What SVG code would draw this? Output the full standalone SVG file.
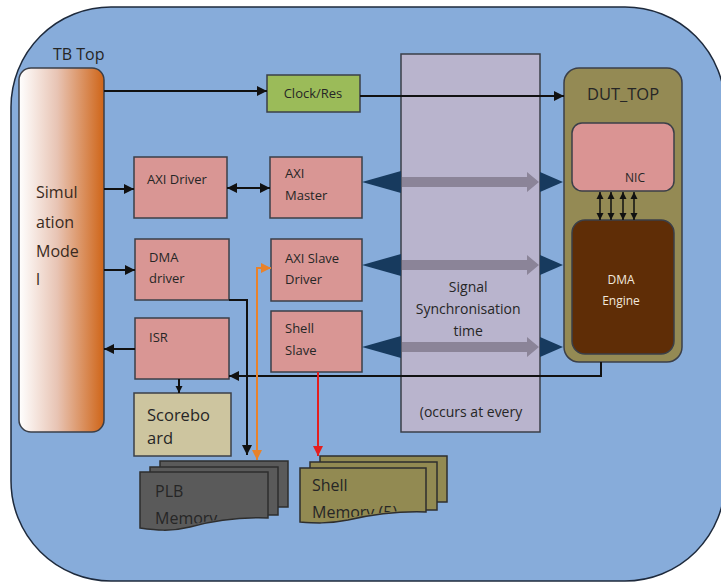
<svg xmlns="http://www.w3.org/2000/svg" width="721" height="583" viewBox="0 0 721 583">
  <defs>
    <linearGradient id="simGrad" x1="0" y1="0" x2="1" y2="0">
      <stop offset="0" stop-color="#ffffff"/>
      <stop offset="0.45" stop-color="#e8c4b4"/>
      <stop offset="1" stop-color="#cf6518"/>
    </linearGradient>
    <marker id="ah" viewBox="0 0 10 10" refX="10" refY="5" markerWidth="10" markerHeight="10" markerUnits="userSpaceOnUse" orient="auto-start-reverse">
      <path d="M0,0 L10,5 L0,10 Z" fill="#111"/>
    </marker>
    <marker id="ahS" viewBox="0 0 10 10" refX="10" refY="5" markerWidth="7" markerHeight="8" markerUnits="userSpaceOnUse" orient="auto-start-reverse">
      <path d="M0,0 L10,5 L0,10 Z" fill="#111"/>
    </marker>
    <marker id="ahO" viewBox="0 0 10 10" refX="10" refY="5" markerWidth="10" markerHeight="10" markerUnits="userSpaceOnUse" orient="auto-start-reverse">
      <path d="M0,0 L10,5 L0,10 Z" fill="#e8822a"/>
    </marker>
    <marker id="ahR" viewBox="0 0 10 10" refX="10" refY="5" markerWidth="10" markerHeight="10" markerUnits="userSpaceOnUse" orient="auto">
      <path d="M0,0 L10,5 L0,10 Z" fill="#e41e1e"/>
    </marker>
    <!-- text areas of the memory stacks end just above the wavy edge -->
    <clipPath id="plbClip"><path d="M140,470 H268 V517 C240,516 212,520 190,525 C170,529 155,528 140,527 Z"/></clipPath>
    <clipPath id="shellClip"><path d="M300,466 H426 V511 C398,510 370,514 348,518 C328,521 314,520 300,520 Z"/></clipPath>
  </defs>
  <style>
    .box { fill: #d99694; stroke: #3b3f48; stroke-width: 1.5; }
    .txt { font-family: "Open Sans", "Liberation Sans", sans-serif; font-size: 13px; fill: #262626; }
    .big { font-family: "Open Sans", "Liberation Sans", sans-serif; font-size: 16px; fill: #262626; }
    .wire { fill: none; stroke: #111; stroke-width: 2; }
    .navy { fill: #173a5e; }
    .grayArrow { fill: #8b8498; }
    .memD { fill: #5a5a5a; stroke: #2e2e2e; stroke-width: 1.5; }
    .memO { fill: #928a52; stroke: #2e2e2e; stroke-width: 1.5; }
  </style>

  <!-- testbench top-level container -->
  <g id="tb-top">
    <rect x="11" y="7" width="714" height="574" rx="100" ry="100" fill="#87acda" stroke="#1e2a3c" stroke-width="1.5"/>
    <text x="53" y="60" class="big">TB Top</text>
  </g>

  <!-- signal synchronisation band -->
  <g id="sync">
    <rect x="401" y="54" width="139" height="378" fill="#b9b4cd" stroke="#3b3f48" stroke-width="1.5"/>
    <text class="txt" text-anchor="middle" style="font-size:14px">
      <tspan x="470" y="292">Signal</tspan>
      <tspan x="470" y="314">Synchronisation</tspan>
      <tspan x="470" y="336">time</tspan>
      <tspan x="471" y="417">(occurs at every</tspan>
    </text>
  </g>

  <g id="sim-model">
    <rect x="19" y="68" width="85" height="364" rx="12" ry="12" fill="url(#simGrad)" stroke="#3b3f48" stroke-width="1.5"/>
    <text class="big" style="fill:#3a2a20">
      <tspan x="36" y="198">Simul</tspan>
      <tspan x="36" y="228">ation</tspan>
      <tspan x="36" y="257">Mode</tspan>
      <tspan x="36" y="285">l</tspan>
    </text>
  </g>

  <g id="clock-res">
    <rect x="267" y="75" width="93" height="37" fill="#9bbb59" stroke="#3b3f48" stroke-width="1.5"/>
    <text x="313" y="98" class="txt" text-anchor="middle">Clock/Res</text>
  </g>

  <g id="axi-driver">
    <rect x="134" y="157" width="93" height="61" class="box"/>
    <text x="147" y="184" class="txt">AXI Driver</text>
  </g>

  <g id="axi-master">
    <rect x="270" y="157" width="92" height="61" class="box"/>
    <text class="txt"><tspan x="285" y="178">AXI</tspan><tspan x="285" y="200">Master</tspan></text>
  </g>

  <g id="dma-driver">
    <rect x="135" y="239" width="94" height="61" class="box"/>
    <text class="txt"><tspan x="149" y="262">DMA</tspan><tspan x="149" y="283">driver</tspan></text>
  </g>

  <g id="axi-slave-driver">
    <rect x="271" y="239" width="91" height="62" class="box"/>
    <text class="txt"><tspan x="285" y="263">AXI Slave</tspan><tspan x="285" y="284">Driver</tspan></text>
  </g>

  <g id="isr">
    <rect x="135" y="318" width="94" height="61" class="box"/>
    <text x="149" y="342" class="txt">ISR</text>
  </g>

  <g id="shell-slave">
    <rect x="271" y="311" width="91" height="61" class="box"/>
    <text class="txt"><tspan x="285" y="333">Shell</tspan><tspan x="285" y="355">Slave</tspan></text>
  </g>

  <g id="scoreboard">
    <rect x="134" y="393" width="97" height="63" fill="#cdc59f" stroke="#3b3f48" stroke-width="1.5"/>
    <text class="big" style="font-size:16.5px"><tspan x="147" y="421">Scorebo</tspan><tspan x="147" y="444">ard</tspan></text>
  </g>

  <g id="dut-top">
    <rect x="564" y="68" width="118" height="294" rx="15" ry="15" fill="#948a54" stroke="#3b3f48" stroke-width="1.5"/>
    <text x="623" y="100" class="big" text-anchor="middle" style="font-size:16.5px">DUT_TOP</text>
  </g>

  <g id="nic">
    <rect x="572" y="123" width="102" height="68" rx="10" ry="10" fill="#da9493" stroke="#3b3f48" stroke-width="1.5"/>
    <text x="635" y="182" class="txt" text-anchor="middle" style="font-size:12px">NIC</text>
  </g>

  <g id="dma-engine">
    <rect x="572" y="220" width="102" height="134" rx="13" ry="13" fill="#5f2d06" stroke="#3b3f48" stroke-width="1.5"/>
    <text class="txt" text-anchor="middle" style="font-size:12px;fill:#f2e8dc"><tspan x="621" y="284">DMA</tspan><tspan x="621" y="305">Engine</tspan></text>
  </g>

  <g id="plb-memory">
    <rect x="160" y="461" width="128" height="46" class="memD"/>
    <rect x="150" y="467" width="128" height="48" class="memD"/>
    <path d="M140,472 H268 V518 C240,517 212,521 190,527 C170,532 155,530 140,528 Z" class="memD"/>
    <text class="big" clip-path="url(#plbClip)"><tspan x="155" y="497">PLB</tspan><tspan x="155" y="524">Memory</tspan></text>
  </g>

  <g id="shell-memory">
    <rect x="320" y="456" width="127" height="46" class="memO"/>
    <rect x="310" y="462" width="127" height="48" class="memO"/>
    <path d="M300,468 H426 V512 C398,511 370,515 348,520 C328,524 314,523 300,522 Z" class="memO"/>
    <text class="big" clip-path="url(#shellClip)"><tspan x="312" y="491">Shell</tspan><tspan x="312" y="518">Memory (5)</tspan></text>
  </g>

  <g id="connectors">
    <!-- clock/reset path -->
    <line x1="104" y1="91" x2="267" y2="91" class="wire" marker-end="url(#ah)"/>
    <line x1="360" y1="96" x2="564" y2="96" class="wire" marker-end="url(#ah)"/>
    <!-- driver links -->
    <line x1="104" y1="189" x2="134" y2="189" class="wire" marker-end="url(#ah)"/>
    <line x1="227" y1="188" x2="270" y2="188" class="wire" marker-start="url(#ah)" marker-end="url(#ah)"/>
    <line x1="104" y1="270" x2="135" y2="270" class="wire" marker-end="url(#ah)"/>
    <line x1="135" y1="349" x2="104" y2="349" class="wire" marker-end="url(#ah)"/>
    <line x1="179" y1="379" x2="179" y2="393" class="wire" marker-end="url(#ahS)"/>
    <!-- interrupt back from DUT -->
    <polyline points="601,362 601,376 229,376" class="wire" marker-end="url(#ah)"/>
    <!-- memory access paths -->
    <polyline points="229,300 247,300 247,455" class="wire" marker-end="url(#ah)"/>
    <polyline points="257,460 257,268 271,268" fill="none" stroke="#e8822a" stroke-width="2" marker-start="url(#ahO)" marker-end="url(#ahO)"/>
    <line x1="318" y1="372" x2="318" y2="456" stroke="#e41e1e" stroke-width="2" marker-end="url(#ahR)"/>
    <!-- NIC to DMA engine buses -->
    <g stroke="#111" stroke-width="1.5">
      <line x1="600" y1="192" x2="600" y2="220" marker-start="url(#ahS)" marker-end="url(#ahS)"/>
      <line x1="611" y1="192" x2="611" y2="220" marker-start="url(#ahS)" marker-end="url(#ahS)"/>
      <line x1="623" y1="192" x2="623" y2="220" marker-start="url(#ahS)" marker-end="url(#ahS)"/>
      <line x1="634" y1="192" x2="634" y2="220" marker-start="url(#ahS)" marker-end="url(#ahS)"/>
    </g>
    <!-- synchronised signal channels -->
    <g id="chan-axi-master">
      <path d="M362,182 L401,171 L401,193 Z" class="navy"/>
      <path d="M563,182 L540,172 L540,192 Z" class="navy"/>
      <path d="M402,177 H527 V172 L539,182 L527,192 V187 H402 Z" class="grayArrow"/>
    </g>
    <g id="chan-axi-slave">
      <path d="M362,265 L401,254 L401,276 Z" class="navy"/>
      <path d="M563,265 L540,255 L540,275 Z" class="navy"/>
      <path d="M402,260 H527 V255 L539,265 L527,275 V270 H402 Z" class="grayArrow"/>
    </g>
    <g id="chan-shell-slave">
      <path d="M362,347 L401,336 L401,358 Z" class="navy"/>
      <path d="M563,347 L540,337 L540,357 Z" class="navy"/>
      <path d="M402,342 H527 V337 L539,347 L527,357 V352 H402 Z" class="grayArrow"/>
    </g>
  </g>
</svg>
